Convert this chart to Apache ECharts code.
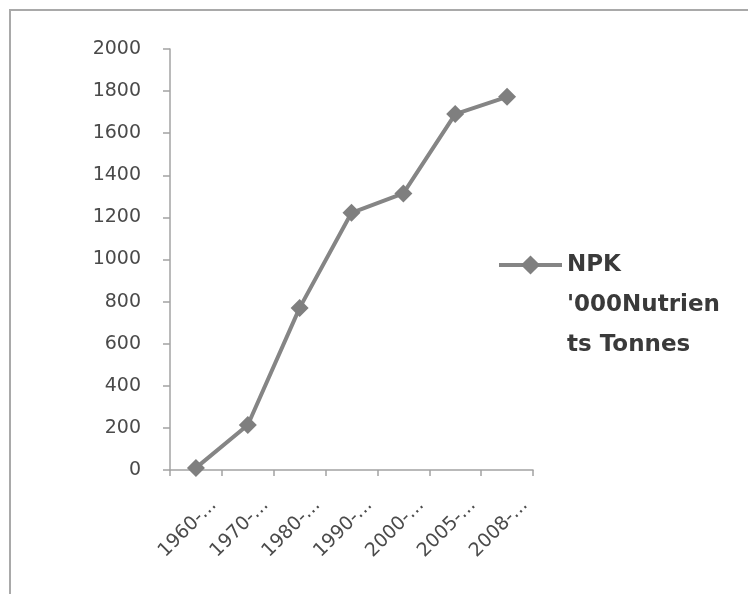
<!DOCTYPE html>
<html>
<head>
<meta charset="utf-8">
<script src="https://cdn.jsdelivr.net/npm/echarts@6/dist/echarts.min.js"></script>
<style>
html,body{margin:0;padding:0;background:#fff;}
#frame{position:absolute;left:9px;top:9px;width:739px;height:585px;border-left:2px solid #a9a9a9;border-top:2px solid #a9a9a9;}
#chart{position:absolute;left:0;top:0;width:748px;height:594px;}
</style>
</head>
<body>
<div id="frame"></div>
<div id="chart"></div>
<script>
var categories = ["1960-...", "1970-...", "1980-...", "1990-...", "2000-...", "2005-...", "2008-..."];
var npkValues = [10, 214, 770, 1222, 1314, 1691, 1773];
var seriesName = "NPK '000Nutrients Tonnes";
var legendText = "\n\nNPK\n'000Nutrien\nts Tonnes";
var yMin = 0, yMax = 2000, yStep = 200;

var chart = echarts.init(document.getElementById('chart'));
chart.setOption({
  backgroundColor: 'transparent',
  animation: false,
  grid: {left: 170, right: 215, top: 49, bottom: 124, containLabel: false},
  legend: {
    left: 497, top: 165,
    padding: 0,
    orient: 'vertical',
    itemWidth: 63, itemHeight: 24, itemGap: 10,
    data: [seriesName],
    formatter: function () { return legendText; },
    lineStyle: {width: 4},
    textStyle: {
      fontFamily: 'DejaVu Sans', fontSize: 23, fontWeight: 'bold', color: '#3a3a3a',
      lineHeight: 40
    }
  },
  xAxis: {
    type: 'category',
    data: categories,
    boundaryGap: true,
    axisLine: {lineStyle: {color: '#a3a3a3', width: 1.5}},
    axisTick: {show: true, length: 6, lineStyle: {color: '#a3a3a3', width: 1.5}},
    axisLabel: {
      interval: 0, rotate: 45, margin: 50,
      fontFamily: 'DejaVu Sans', fontSize: 19, color: '#4a4a4a',
      padding: [0, -25, 0, 0]
    },
    splitLine: {show: false}
  },
  yAxis: {
    type: 'value',
    min: yMin, max: yMax, interval: yStep,
    axisLine: {show: true, lineStyle: {color: '#a3a3a3', width: 1.5}},
    axisTick: {show: true, length: 7, lineStyle: {color: '#a3a3a3', width: 1.5}},
    axisLabel: {margin: 29, fontFamily: 'DejaVu Sans', fontSize: 19, color: '#4a4a4a',
      formatter: function (v) { return String(v); }},
    splitLine: {show: false}
  },
  series: [{
    name: seriesName,
    type: 'line',
    data: npkValues,
    symbol: 'diamond',
    symbolSize: 18,
    lineStyle: {color: '#858585', width: 4},
    itemStyle: {color: '#7f7f7f'}
  }]
});
</script>
</body>
</html>
